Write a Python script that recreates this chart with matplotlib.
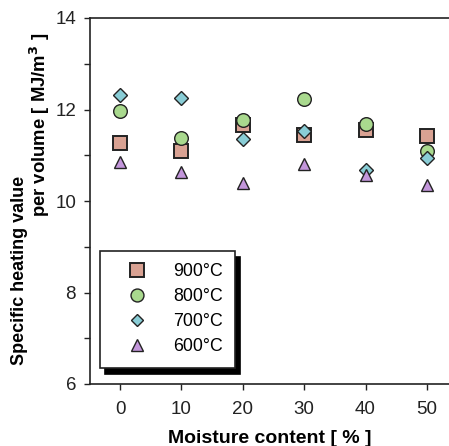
import matplotlib
matplotlib.use("Agg")
import matplotlib.pyplot as plt
from matplotlib.ticker import MultipleLocator

plt.rcParams['font.family'] = ['Liberation Sans', 'DejaVu Sans']

moisture = [0, 10, 20, 30, 40, 50]
t900 = [11.26, 11.09, 11.67, 11.45, 11.56, 11.42]
t800 = [11.96, 11.38, 11.76, 12.24, 11.69, 11.10]
t700 = [12.31, 12.26, 11.36, 11.53, 10.67, 10.95]
t600 = [10.85, 10.64, 10.40, 10.81, 10.57, 10.36]
labels = ['900°C', '800°C', '700°C', '600°C']

W, H = 449, 446
fig = plt.figure(figsize=(W/100, H/100), dpi=100)
ax = fig.add_axes([90/W, 1-384/H, (W-90)/W, (384-18)/H])

series = [
    (t900, 's', '#d9a293', 10.2, 1.4),
    (t800, 'o', '#a9d98e', 9.8, 1.0),
    (t700, 'D', '#89cdd6', 6.9, 1.0),
    (t600, '^', '#c396db', 8.8, 1.0),
]
for (vals, m, c, ms, mew), lab in zip(series, labels):
    ax.plot(moisture, vals, linestyle='none', marker=m, markersize=ms,
            markerfacecolor=c, markeredgecolor='#222222', markeredgewidth=mew,
            label=lab)

ax.set_xlim(-4.9, 53.6)
ax.set_ylim(6, 14)
ax.set_xticks(moisture)
ax.yaxis.set_major_locator(MultipleLocator(2))
ax.yaxis.set_minor_locator(MultipleLocator(1))
ax.spines['right'].set_visible(False)
for s in ['left', 'bottom', 'top']:
    ax.spines[s].set_linewidth(1.2)
    ax.spines[s].set_color('#222222')
ax.tick_params(axis='both', which='both', direction='out', length=4, width=1,
               labelsize=13.5, colors='#222222', pad=6)
ax.tick_params(axis='x', pad=8)

ax.set_xlabel('Moisture content [ % ]', fontsize=14, fontweight='bold', labelpad=9)
fig.text(20/W, 1-270/H, 'Specific heating value', rotation=90, fontsize=13,
         fontweight='bold', ha='center', va='center')
fig.text(40/W, 1-125/H, 'per volume [ MJ/m$^\\mathbf{3}$ ]', rotation=90, fontsize=13.3,
         fontweight='bold', ha='center', va='center')

leg = ax.legend(loc='lower left', bbox_to_anchor=(0.028, 0.044), borderaxespad=0,
                fancybox=False, frameon=True, fontsize=12.8, handletextpad=0.6,
                labelspacing=0.45, borderpad=0.7, handlelength=2.8, markerscale=0.95,
                shadow={'ox': 3.6, 'oy': -4.3, 'facecolor': 'black',
                        'edgecolor': 'black', 'alpha': 1})
leg.get_frame().set_edgecolor('#222222')
leg.get_frame().set_linewidth(1.2)
leg.get_frame().set_alpha(1)

fig.savefig('out.png', dpi=100)
